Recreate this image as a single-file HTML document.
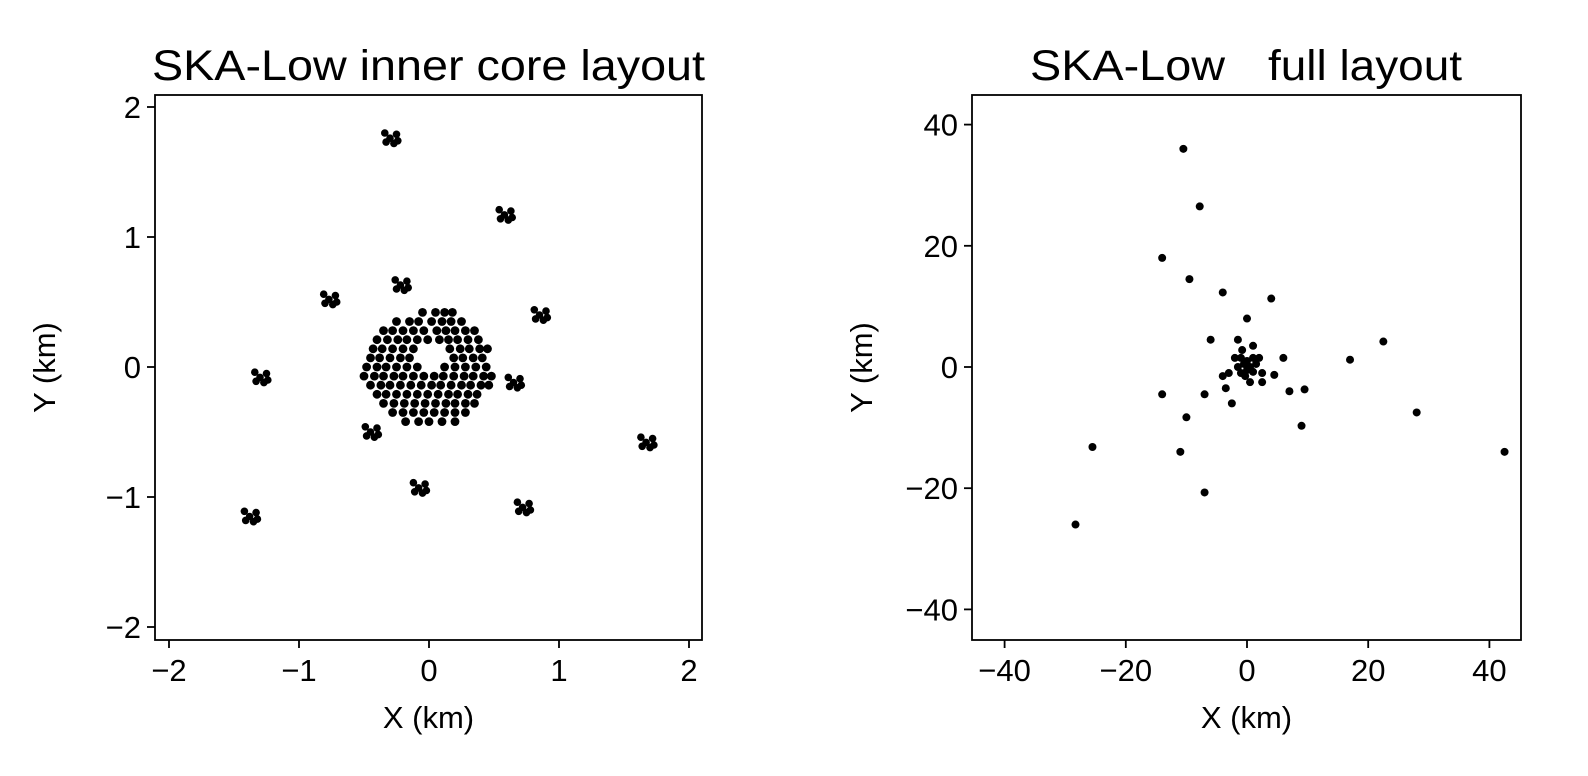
<!DOCTYPE html>
<html><head><meta charset="utf-8"><style>
html,body{margin:0;padding:0;background:#fff;}
svg{display:block;font-family:"Liberation Sans",sans-serif;}
</style></head><body>
<svg id="c" width="1588" height="776" xmlns="http://www.w3.org/2000/svg"></svg>
<script>
// ---- left panel data (km) ----
const coreRowY = [0.42,0.35,0.28,0.21,0.14,0.07,0.0,-0.07,-0.14,-0.21,-0.28,-0.35,-0.42];
const coreRowX = [
 [-0.05,0.05,0.12,0.18],
 [-0.25,-0.15,-0.08,0.02,0.1,0.17,0.25],
 [-0.35,-0.28,-0.2,-0.12,-0.04,0.06,0.13,0.2,0.28,0.35],
 [-0.4,-0.32,-0.24,-0.17,-0.09,-0.01,0.08,0.15,0.22,0.3,0.38],
 [-0.43,-0.36,-0.28,-0.2,-0.12,0.16,0.24,0.31,0.39,0.45],
 [-0.45,-0.38,-0.3,-0.22,-0.15,0.19,0.26,0.34,0.41],
 [-0.48,-0.4,-0.33,-0.25,-0.17,-0.09,0.12,0.2,0.28,0.36,0.44],
 [-0.5,-0.42,-0.35,-0.27,-0.2,-0.12,-0.04,0.04,0.11,0.19,0.27,0.34,0.42,0.48],
 [-0.45,-0.37,-0.3,-0.22,-0.14,-0.06,0.02,0.09,0.17,0.25,0.32,0.4,0.46],
 [-0.4,-0.33,-0.25,-0.17,-0.09,-0.01,0.07,0.15,0.22,0.3,0.37],
 [-0.35,-0.27,-0.19,-0.11,-0.03,0.05,0.13,0.2,0.28,0.35],
 [-0.28,-0.2,-0.12,-0.04,0.04,0.12,0.2,0.28],
 [-0.18,-0.08,0.0,0.1,0.2]
];
const clusterCX = [-0.3,0.58,-0.22,-0.77,0.85,-1.3,0.65,-0.45,1.67,-0.08,0.72,-1.38];
const clusterCY = [1.76,1.17,0.63,0.52,0.4,-0.08,-0.12,-0.5,-0.58,-0.93,-1.08,-1.15];
const memberDX = [0,0.05,-0.04,0.03,-0.03,0.06];
const memberDY = [0,0.03,0.04,-0.04,-0.03,-0.02];
const leftTicks = [-2,-1,0,1,2];
const leftTickLabels = ["\u22122","\u22121","0","1","2"];
// ---- right panel data (km) ----
const fullX = [-10.5,-7.8,-14,-9.5,-4,4,0,-1.5,-6,1,-2,-1,1,2,6,17,22.5,-0.5,0.5,-1.5,1.5,0,-1,1,-3,-0.3,2.5,4.5,-3.5,-2.5,0.5,2.5,7,9.5,-14,-7,-10,9,28,42.5,-11,-25.5,-7,-28.3,-4,0,-0.8];
const fullY = [36,26.5,18,14.5,12.3,11.3,8,4.5,4.5,3.5,1.5,1.5,1.5,1.5,1.5,1.2,4.2,0.5,0,0,0.5,-0.5,-1,-0.8,-1,-1.5,-1,-1.3,-3.5,-6,-2.5,-2.5,-4,-3.7,-4.5,-4.5,-8.3,-9.7,-7.5,-14,-14,-13.2,-20.7,-26,-1.5,1,2.8];
const rightTicks = [-40,-20,0,20,40];
const rightTickLabels = ["\u221240","\u221220","0","20","40"];

const NS="http://www.w3.org/2000/svg";
const svg=document.getElementById('c');
function mk(tag,attrs,parent){const e=document.createElementNS(NS,tag);for(const k in attrs)e.setAttribute(k,attrs[k]);(parent||svg).appendChild(e);return e;}

function panel(name,box,xs,ys,ticks,labels,titles){
  const g=mk('g',{});
  
  
  const X=v=>xs.p0+(v-xs.v0)*xs.k, Y=v=>ys.p0-(v-ys.v0)*ys.k;
  const r=mk('rect',{x:box.x,y:box.y,width:box.w,height:box.h,fill:'none',stroke:'#000','stroke-width':1.8},g);
  
  
  ticks.forEach((t,i)=>{
    const xt=X(t);
    const l1=mk('line',{x1:xt,x2:xt,y1:box.y+box.h,y2:box.y+box.h+8,stroke:'#000','stroke-width':1.8},g);
    
    
    const tx=mk('text',{x:xt,y:box.y+box.h+41,'font-size':31,'text-anchor':'middle'},g);tx.textContent=labels[i];
    
    
    const yt=Y(t);
    const l2=mk('line',{x1:box.x-8,x2:box.x,y1:yt,y2:yt,stroke:'#000','stroke-width':1.8},g);
    
    
    const ty=mk('text',{x:box.x-14,y:yt+11,'font-size':31,'text-anchor':'end'},g);ty.textContent=labels[i];
    
    
  });
  const xl=mk('text',{x:box.x+box.w/2,y:728,'font-size':31,'text-anchor':'middle'},g);xl.textContent='X (km)';
  
  
  const yl=mk('text',{x:0,y:0,'font-size':31,'text-anchor':'middle',transform:`translate(${box.x-100},${box.y+box.h/2}) rotate(-90)`},g);yl.textContent='Y (km)';
  
  
  titles.forEach(t=>{
    const tt=mk('text',{x:t.x,y:80,'font-size':43,'text-anchor':'start',textLength:t.w,lengthAdjust:'spacingAndGlyphs'},g);tt.textContent=t.s;
    
    
  });
  return {g,X,Y};
}

const L=panel('inner-core-panel',{x:155,y:95,w:547,h:545},{p0:429,v0:0,k:130},{p0:367,v0:0,k:130},leftTicks,leftTickLabels,[{s:'SKA-Low inner core layout',x:152,w:553}]);
coreRowY.forEach((y,i)=>coreRowX[i].forEach(x=>{
  const c=mk('circle',{cx:L.X(x),cy:L.Y(y),r:4.4,fill:'#000'},L.g);
  
  
}));
clusterCX.forEach((cx,i)=>memberDX.forEach((dx,j)=>{
  const c=mk('circle',{cx:L.X(cx+dx),cy:L.Y(clusterCY[i]+memberDY[j]),r:3.8,fill:'#000'},L.g);
  
  
}));

const R=panel('full-layout-panel',{x:972,y:95,w:549,h:545},{p0:1247,v0:0,k:6.06},{p0:367,v0:0,k:6.06},rightTicks,rightTickLabels,[{s:'SKA-Low',x:1030,w:195},{s:'full layout',x:1268,w:194}]);
fullX.forEach((x,i)=>{
  const c=mk('circle',{cx:R.X(x),cy:R.Y(fullY[i]),r:4,fill:'#000'},R.g);
  
  
});
</script>
</body></html>
